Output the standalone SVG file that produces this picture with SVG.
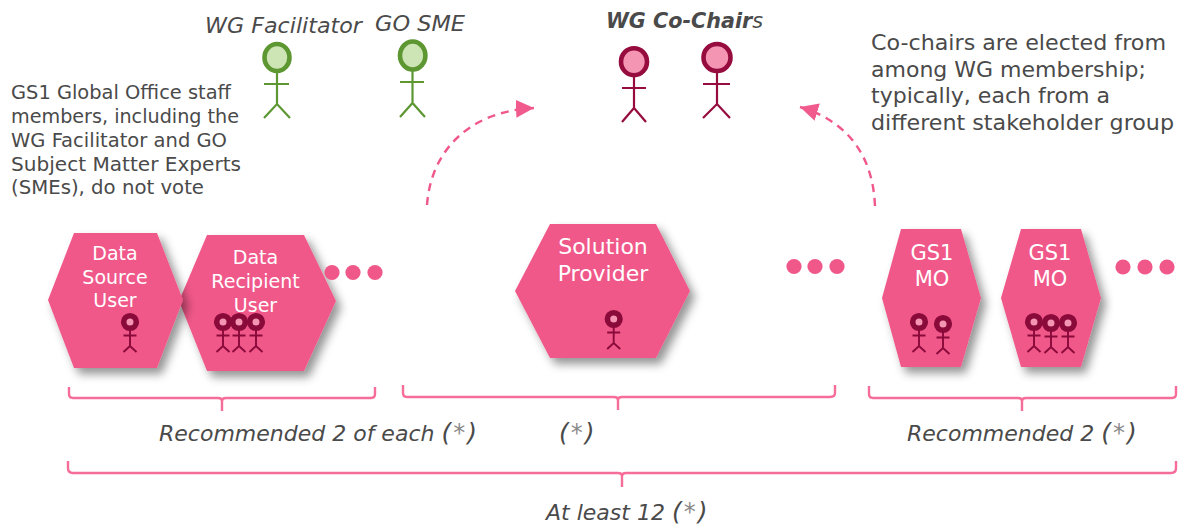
<svg xmlns="http://www.w3.org/2000/svg" width="1186" height="528" viewBox="0 0 1186 528">
<defs>
<filter id="sh" x="-20%" y="-20%" width="150%" height="150%"><feDropShadow dx="5" dy="6" stdDeviation="5" flood-color="#000" flood-opacity="0.42"/></filter>
<marker id="ah" markerUnits="userSpaceOnUse" markerWidth="22" markerHeight="20" refX="18" refY="9" orient="auto"><path d="M0 0L18 9L0 18Z" fill="#f05a8c"/></marker>
<g id="pd"><circle cx="0" cy="0" r="6.3" fill="#f595b4" stroke="#8a0a3a" stroke-width="5.6"/><path d="M0 8V24M-6.5 13.5H6.500M-6.5 30L0 24L6.5 30" fill="none" stroke="#8a0a3a" stroke-width="1.9"/></g>
</defs>
<style>
text{font-family:"DejaVu Sans",Verdana,sans-serif}
.t{fill:#4a4a4a}
.n{font-size:19px}
.r{font-size:22px}
.i{font-style:italic;font-size:22px;fill:#4a4a4a}
.p{font-size:25px}
.a{fill:#8a8a8a;font-size:24px}
.w{fill:#fff;text-anchor:middle}
.s{font-size:19px}
.l{font-size:22px}
.h{fill:#f0588a;filter:url(#sh)}
.d{fill:#f0588a}
.b{fill:none;stroke:#f56d98;stroke-width:2.4}
.c{fill:none;stroke:#f0588a;stroke-width:2.4;stroke-dasharray:8 6}
.g{fill:none;stroke:#5d9732;stroke-width:2.2}
.m{fill:none;stroke:#960c3e;stroke-width:2.2}
</style>
<g id="connectors">
<path class="c" d="M427 205C431 150 470 111 534 108" marker-end="url(#ah)"/>
<path class="c" d="M875 206C873 158 850 122 800 107" marker-end="url(#ah)"/>
<path class="b" d="M69 387V394Q69 398 73 398H218Q222 398 222 401V411M222 401Q222 398 226 398H371Q375 398 375 394V387"/>
<path class="b" d="M403 385V393Q403 397 407 397H614Q618 397 618 400V410M618 400Q618 397 622 397H830Q835 397 835 393V385"/>
<path class="b" d="M869 386V394Q869 398 873 398H1018Q1022 398 1022 401V411M1022 401Q1022 398 1026 398H1172Q1176 398 1176 394V386"/>
<path class="b" d="M68 461V468Q68 473 73 473H618Q622 473 622 476V487M622 476Q622 473 626 473H1171Q1176 473 1176 468V461"/>
</g>
<g id="wg-facilitator"><ellipse cx="277" cy="57.5" rx="12.5" ry="13.5" fill="#cde5b5" stroke="#5d9732" stroke-width="4.6"/><path class="g" d="M277 72V104M264 84H289M264 118L277 104L290 118"/><text class="i" x="205" y="33" textLength="157" lengthAdjust="spacingAndGlyphs">WG Facilitator</text></g>
<g id="go-sme"><ellipse cx="412.7" cy="55.5" rx="12.7" ry="14" fill="#cde5b5" stroke="#5d9732" stroke-width="4.6"/><path class="g" d="M412.5 71V102M400 82H424M400 117L412.5 103L425 117"/><text class="i" x="375" y="31" textLength="90" lengthAdjust="spacingAndGlyphs">GO SME</text></g>
<g id="co-chairs"><text class="i" x="606" y="28" style="font-size:20.5px" textLength="157" lengthAdjust="spacingAndGlyphs"><tspan font-weight="bold">WG Co-Chair</tspan>s</text>
<ellipse cx="634" cy="61.7" rx="13" ry="13.5" fill="#f595b4" stroke="#960c3e" stroke-width="4.6"/><path class="m" d="M634 77V108M622 88H646M622 122L634 108L646 122"/>
<ellipse cx="717" cy="57.5" rx="13.5" ry="13.5" fill="#f595b4" stroke="#960c3e" stroke-width="4.6"/><path class="m" d="M717 72V104M703 84H730M703 118L717 104L730 118"/></g>
<g id="note-go"><text class="t n" x="11" y="99" textLength="220" lengthAdjust="spacingAndGlyphs">GS1 Global Office staff</text><text class="t n" x="11" y="123" textLength="228" lengthAdjust="spacingAndGlyphs">members, including the</text><text class="t n" x="11" y="147" textLength="216" lengthAdjust="spacingAndGlyphs">WG Facilitator and GO</text><text class="t n" x="11" y="171" textLength="230" lengthAdjust="spacingAndGlyphs">Subject Matter Experts</text><text class="t n" x="11" y="194" textLength="193" lengthAdjust="spacingAndGlyphs">(SMEs), do not vote</text></g>
<g id="note-cochairs"><text class="t r" x="871" y="50" textLength="295" lengthAdjust="spacingAndGlyphs">Co-chairs are elected from</text><text class="t r" x="871" y="77" textLength="275" lengthAdjust="spacingAndGlyphs">among WG membership;</text><text class="t r" x="871" y="103" textLength="239" lengthAdjust="spacingAndGlyphs">typically, each from a</text><text class="t r" x="871" y="130" textLength="303" lengthAdjust="spacingAndGlyphs">different stakeholder group</text></g>
<g id="data-recipient"><path class="h" d="M179 301L207 235H304L336 301L304 371H207Z"/><text class="w s" x="255.500" y="264">Data</text><text class="w s" x="255.500" y="288">Recipient</text><text class="w s" x="255.500" y="312">User</text><use href="#pd" x="223" y="322"/><use href="#pd" x="239" y="322"/><use href="#pd" x="256" y="322"/></g>
<g id="data-source"><path class="h" d="M48 300L74 233H157L183 300L157 368H74Z"/><text class="w s" x="115" y="260">Data</text><text class="w s" x="115" y="284">Source</text><text class="w s" x="115" y="307">User</text><use href="#pd" x="130" y="322"/></g>
<g id="dots-1" class="d"><circle cx="332" cy="272.500" r="7.600"/><circle cx="353" cy="272.500" r="7.600"/><circle cx="375" cy="272.500" r="7.600"/></g>
<g id="solution-provider"><path class="h" d="M515 291L550 224H656L690 291L656 358H550Z"/><text class="w l" x="603" y="254">Solution</text><text class="w l" x="603" y="281">Provider</text><use href="#pd" x="613.700" y="319"/></g>
<g id="dots-2" class="d"><circle cx="794" cy="266.500" r="7.600"/><circle cx="815" cy="266.500" r="7.600"/><circle cx="837" cy="266.500" r="7.600"/></g>
<g id="mo-1"><path class="h" d="M882 298L901 229H961L981 298L961 367H901Z"/><text class="w" font-size="21" x="932" y="260">GS1</text><text class="w" font-size="21" x="932" y="286">MO</text><use href="#pd" x="919" y="322"/><use href="#pd" x="943" y="324"/></g>
<g id="mo-2"><path class="h" d="M1001 298L1021 229H1081L1101 298L1081 367H1021Z"/><text class="w" font-size="21" x="1050" y="260">GS1</text><text class="w" font-size="21" x="1050" y="286">MO</text><use href="#pd" x="1034" y="322"/><use href="#pd" x="1051" y="323"/><use href="#pd" x="1068" y="323"/></g>
<g id="dots-3" class="d"><circle cx="1123" cy="267" r="7.600"/><circle cx="1145" cy="267" r="7.600"/><circle cx="1167" cy="267" r="7.600"/></g>
<g id="labels"><text class="i" x="159" y="441">Recommended 2 of each <tspan class="p">(</tspan><tspan class="a" dx="2">*</tspan><tspan class="p" dx="2">)</tspan></text><text class="i" x="559" y="441"><tspan class="p">(</tspan><tspan class="a" dx="2">*</tspan><tspan class="p" dx="2">)</tspan></text><text class="i" x="907" y="441">Recommended 2 <tspan class="p">(</tspan><tspan class="a" dx="2">*</tspan><tspan class="p" dx="2">)</tspan></text><text class="i" x="546" y="520">At least 12 <tspan class="p">(</tspan><tspan class="a" dx="2">*</tspan><tspan class="p" dx="2">)</tspan></text></g>
</svg>
